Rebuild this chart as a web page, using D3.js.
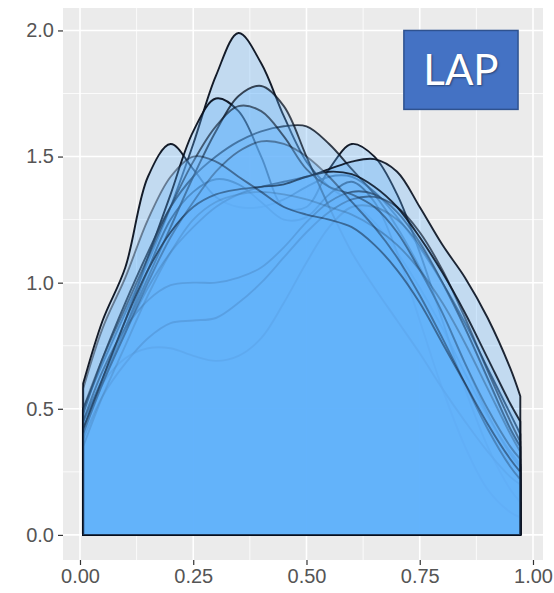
<!DOCTYPE html>
<html>
<head>
<meta charset="utf-8">
<script src="https://cdn.jsdelivr.net/npm/d3@7"></script>
<style>
  body { margin: 0; background: #fff; }
  svg { display: block; }
</style>
</head>
<body>
<div id="chart"></div>
<script>
// x positions where every density curve was read
const xs = [0.007, 0.05, 0.1, 0.15, 0.2, 0.25, 0.3, 0.35, 0.4, 0.45, 0.5, 0.55, 0.6, 0.65, 0.7, 0.75, 0.8, 0.85, 0.9, 0.95, 0.972];

// density values, one list per curve
const d01 = [0.50, 0.68, 0.88, 1.08, 1.30, 1.55, 1.82, 1.99, 1.87, 1.66, 1.48, 1.38, 1.32, 1.24, 1.12, 0.98, 0.82, 0.64, 0.47, 0.33, 0.28];
const d02 = [0.60, 0.85, 1.06, 1.42, 1.55, 1.45, 1.34, 1.30, 1.30, 1.33, 1.38, 1.42, 1.42, 1.36, 1.26, 1.14, 1.00, 0.84, 0.66, 0.48, 0.40];
const d03 = [0.45, 0.62, 0.85, 1.10, 1.35, 1.60, 1.73, 1.68, 1.50, 1.30, 1.30, 1.45, 1.55, 1.50, 1.35, 1.12, 0.85, 0.58, 0.35, 0.18, 0.13];
const d04 = [0.40, 0.60, 0.82, 1.05, 1.25, 1.36, 1.41, 1.39, 1.32, 1.25, 1.26, 1.35, 1.40, 1.32, 1.12, 0.85, 0.58, 0.35, 0.18, 0.09, 0.07];
const d05 = [0.48, 0.70, 0.92, 1.12, 1.30, 1.42, 1.50, 1.56, 1.60, 1.62, 1.62, 1.55, 1.45, 1.35, 1.22, 1.06, 0.88, 0.68, 0.48, 0.32, 0.27];
const d06 = [0.42, 0.60, 0.80, 0.98, 1.12, 1.22, 1.30, 1.35, 1.38, 1.40, 1.42, 1.45, 1.48, 1.49, 1.44, 1.30, 1.15, 1.02, 0.86, 0.66, 0.55];
const d07 = [0.45, 0.62, 0.82, 1.02, 1.22, 1.42, 1.60, 1.74, 1.78, 1.70, 1.50, 1.30, 1.12, 0.98, 0.85, 0.72, 0.58, 0.45, 0.33, 0.23, 0.20];
const d08 = [0.45, 0.65, 0.82, 0.93, 0.99, 1.00, 1.00, 1.02, 1.06, 1.14, 1.24, 1.32, 1.36, 1.35, 1.28, 1.16, 1.00, 0.82, 0.62, 0.42, 0.35];
const d09 = [0.38, 0.55, 0.68, 0.78, 0.84, 0.85, 0.86, 0.92, 1.00, 1.10, 1.20, 1.28, 1.33, 1.34, 1.30, 1.20, 1.05, 0.86, 0.65, 0.45, 0.37];
const d10 = [0.42, 0.60, 0.70, 0.74, 0.74, 0.71, 0.69, 0.71, 0.78, 0.92, 1.08, 1.22, 1.30, 1.30, 1.25, 1.15, 1.00, 0.82, 0.62, 0.42, 0.35];
const d11 = [0.50, 0.70, 0.90, 1.10, 1.30, 1.48, 1.62, 1.70, 1.68, 1.58, 1.45, 1.38, 1.35, 1.30, 1.20, 1.05, 0.88, 0.68, 0.50, 0.35, 0.30];
const d12 = [0.35, 0.55, 0.75, 0.95, 1.12, 1.25, 1.32, 1.35, 1.36, 1.35, 1.33, 1.30, 1.27, 1.22, 1.15, 1.05, 0.92, 0.76, 0.58, 0.40, 0.33];
const d13 = [0.42, 0.62, 0.85, 1.05, 1.20, 1.30, 1.35, 1.37, 1.38, 1.39, 1.42, 1.44, 1.43, 1.38, 1.30, 1.18, 1.04, 0.88, 0.70, 0.52, 0.45];
const d14 = [0.40, 0.60, 0.80, 1.00, 1.18, 1.32, 1.44, 1.52, 1.56, 1.55, 1.50, 1.42, 1.32, 1.22, 1.10, 0.95, 0.78, 0.60, 0.42, 0.27, 0.22];
const d15 = [0.58, 0.82, 1.02, 1.25, 1.42, 1.50, 1.48, 1.42, 1.36, 1.30, 1.27, 1.25, 1.22, 1.15, 1.05, 0.92, 0.76, 0.60, 0.44, 0.30, 0.25];

const curves = [d01, d02, d03, d04, d05, d06, d07, d08, d09, d10, d11, d12, d13, d14, d15];
// outline darkness of each curve
const lineAlpha = [0.95, 0.95, 0.95, 0.95, 0.8, 0.9, 0.75, 0.7, 0.65, 0.3, 0.6, 0.35, 0.85, 0.4, 0.45];

// ticks
const xTicks = [0, 0.25, 0.5, 0.75, 1];
const xMinor = [0.125, 0.375, 0.625, 0.875];
const yTicks = [0, 0.5, 1, 1.5, 2];
const yMinor = [0.25, 0.75, 1.25, 1.75];
const label = "LAP";

const W = 554, H = 593;
const panel = { left: 63, right: 543, top: 8, bottom: 560 };

const svg = d3.select("#chart").append("svg")
    .attr("width", W)
    .attr("height", H);

const x = d3.scaleLinear().domain([-0.0375, 1.0221]).range([panel.left, panel.right]);
const y = d3.scaleLinear().domain([-0.0995, 2.089]).range([panel.bottom, panel.top]);

// panel background
svg.append("rect")
    .attr("x", panel.left).attr("y", panel.top)
    .attr("width", panel.right - panel.left)
    .attr("height", panel.bottom - panel.top)
    .attr("fill", "#ebebeb");

// grid
const grid = svg.append("g");
grid.selectAll(".xmin").data(xMinor).enter().append("line")
    .attr("x1", d => x(d)).attr("x2", d => x(d))
    .attr("y1", panel.top).attr("y2", panel.bottom)
    .attr("stroke", "#fff").attr("stroke-width", 0.8);
grid.selectAll(".ymin").data(yMinor).enter().append("line")
    .attr("y1", d => y(d)).attr("y2", d => y(d))
    .attr("x1", panel.left).attr("x2", panel.right)
    .attr("stroke", "#fff").attr("stroke-width", 0.8);
grid.selectAll(".xmaj").data(xTicks).enter().append("line")
    .attr("x1", d => x(d)).attr("x2", d => x(d))
    .attr("y1", panel.top).attr("y2", panel.bottom)
    .attr("stroke", "#fff").attr("stroke-width", 1.6);
grid.selectAll(".ymaj").data(yTicks).enter().append("line")
    .attr("y1", d => y(d)).attr("y2", d => y(d))
    .attr("x1", panel.left).attr("x2", panel.right)
    .attr("stroke", "#fff").attr("stroke-width", 1.6);

// densities
const area = d3.area()
    .x((d, i) => x(xs[i]))
    .y0(y(0))
    .y1(d => y(d))
    .curve(d3.curveCatmullRom.alpha(0.5));

svg.append("g").selectAll("path")
    .data(curves)
    .enter().append("path")
    .attr("d", area)
    .attr("fill", "#62b4fb")
    .attr("fill-opacity", 0.3)
    .attr("stroke", (d, i) => `rgba(8,16,30,${lineAlpha[i]})`)
    .attr("stroke-width", 1.9)
    .attr("stroke-linejoin", "round");

// axes
const xAxis = svg.append("g")
    .attr("transform", `translate(0,${panel.bottom})`)
    .call(d3.axisBottom(x).tickValues(xTicks).tickFormat(d3.format(".2f")).tickSize(5).tickPadding(4));
const yAxis = svg.append("g")
    .attr("transform", `translate(${panel.left},0)`)
    .call(d3.axisLeft(y).tickValues(yTicks).tickFormat(d3.format(".1f")).tickSize(5).tickPadding(4));

[xAxis, yAxis].forEach(a => {
    a.select(".domain").remove();
    a.selectAll(".tick line").attr("stroke", "#333").attr("stroke-width", 1.2);
    a.selectAll(".tick text")
        .attr("fill", "#555")
        .attr("font-family", "Liberation Sans, Arial, sans-serif")
        .attr("font-size", "20px");
});

// label box
const box = { x0: 0.715, x1: 0.967, y0: 2.0, y1: 1.687 };
svg.append("rect")
    .attr("x", x(box.x0)).attr("y", y(box.y0))
    .attr("width", x(box.x1) - x(box.x0))
    .attr("height", y(box.y1) - y(box.y0))
    .attr("fill", "#4472c4")
    .attr("stroke", "#2f528f")
    .attr("stroke-width", 1.5);
svg.append("text")
    .attr("x", x((box.x0 + box.x1) / 2))
    .attr("y", y((box.y0 + box.y1) / 2) + 15)
    .attr("text-anchor", "middle")
    .attr("font-family", "Lato, 'Open Sans', sans-serif")
    .attr("font-size", "42px")
    .attr("fill", "#fff")
    .style("text-shadow", "1px 1px 2px rgba(0,0,0,0.4)")
    .text(label);
</script>
</body>
</html>
